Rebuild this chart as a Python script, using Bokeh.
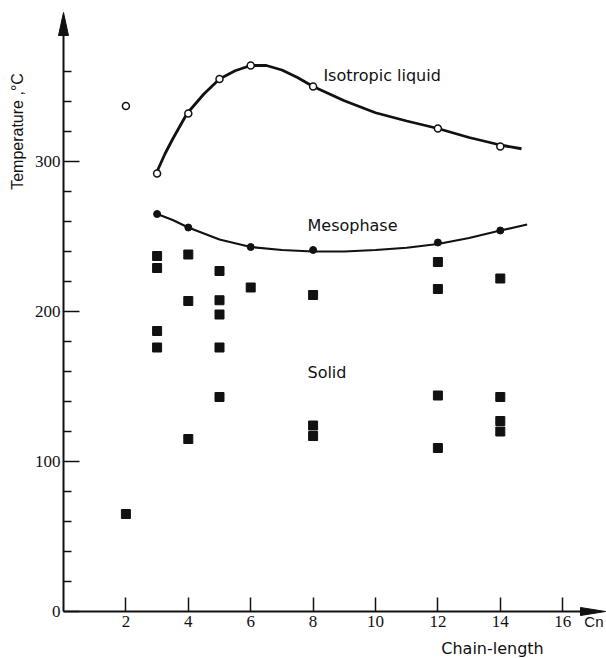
import math
from bokeh.plotting import figure
from bokeh.models import LinearAxis, FixedTicker, Label
from bokeh.embed import file_html
from bokeh.resources import INLINE

# ---- data ----
# isotropic-liquid transition (open circles)
open_c = [2, 3, 4, 5, 6, 8, 12, 14]
open_t = [337, 292, 332, 355, 364, 350, 322, 310]
# mesophase transition (filled circles)
meso_c = [3, 4, 6, 8, 12, 14]
meso_t = [265, 256, 243, 241, 246, 254]
# solid transitions (filled squares)
solid_c = [2, 3, 3, 3, 3, 4, 4, 4, 5, 5, 5, 5, 5, 6, 8, 8, 8, 12, 12, 12, 12, 14, 14, 14, 14]
solid_t = [65, 237, 229, 187, 176, 238, 207, 115, 227, 207.5, 198, 176, 143, 216,
           211, 124, 117, 233, 215, 144, 109, 222, 143, 127, 120]
# hand-drawn curves
iso_curve_c = [2.97, 3.25, 3.5, 3.96, 4.5, 5, 5.5, 6, 6.5, 7, 7.5, 8, 9, 10, 11, 12, 13, 14, 14.68]
iso_curve_t = [292, 305, 315, 332, 345, 355, 360.5, 364, 364, 361, 356, 350, 340.5, 332.5, 327, 322, 316, 311, 308.5]
meso_curve_c = [3, 3.5, 4, 5, 6, 7, 8, 9, 10, 11, 12, 13, 14, 14.86]
meso_curve_t = [265, 261, 256, 248, 243, 241, 240, 240, 241, 242.5, 245, 249, 254, 258]

x_ticks = [2, 4, 6, 8, 10, 12, 14, 16]
y_ticks = [0, 100, 200, 300]
y_minor_ticks = [20, 40, 60, 80, 120, 140, 160, 180, 220, 240, 260, 280, 320, 340, 360]

# ---- layout constants ----
W, H = 606, 658
PX_X = 31.2   # px per chain unit
PX_Y = 1.5    # px per degree
ORG_X, ORG_Y = 63, 611  # pixel position of the origin
X0, X1 = -ORG_X / PX_X, (W - ORG_X) / PX_X
Y0, Y1 = -(H - ORG_Y) / PX_Y, ORG_Y / PX_Y

ink = "#111111"
font = "DejaVu Sans"

p = figure(width=W, height=H, x_range=(X0, X1), y_range=(Y0, Y1),
           output_backend="svg", toolbar_location=None,
           x_axis_location=None, y_axis_location=None, min_border=0)
p.outline_line_color = None
p.grid.visible = False
p.background_fill_color = "white"

y_arrow_base = (ORG_Y - 35) / PX_Y
y_arrow_tip = (ORG_Y - 12) / PX_Y
x_arrow_base = (580 - ORG_X) / PX_X
x_arrow_tip = (605 - ORG_X) / PX_X

yaxis = LinearAxis(fixed_location=0, bounds=(0, y_arrow_base),
                   ticker=FixedTicker(ticks=y_ticks, minor_ticks=y_minor_ticks))
yaxis.axis_line_width = 2
yaxis.axis_line_color = ink
yaxis.major_tick_in = 16
yaxis.major_tick_out = 0
yaxis.minor_tick_in = 8
yaxis.minor_tick_out = 0
yaxis.major_tick_line_width = 1.5
yaxis.minor_tick_line_width = 1.5
yaxis.major_tick_line_color = ink
yaxis.minor_tick_line_color = ink
yaxis.major_label_standoff = 3
yaxis.major_label_text_font = "Liberation Sans Narrow"
yaxis.major_label_text_font_size = "17px"
yaxis.major_label_text_color = ink
p.add_layout(yaxis, "left")

xaxis = LinearAxis(fixed_location=0, bounds=(0, x_arrow_base),
                   ticker=FixedTicker(ticks=x_ticks, minor_ticks=[]))
xaxis.axis_line_width = 2
xaxis.axis_line_color = ink
xaxis.major_tick_in = 14
xaxis.major_tick_out = 0
xaxis.major_tick_line_width = 1.5
xaxis.major_tick_line_color = ink
xaxis.minor_tick_line_color = None
xaxis.major_label_standoff = 4
xaxis.major_label_text_font = "Liberation Sans Narrow"
xaxis.major_label_text_font_size = "17px"
xaxis.major_label_text_color = ink
p.add_layout(xaxis, "below")

# arrow heads at axis ends
hw = 5.0 / PX_X
p.patch([-hw, 0, hw], [y_arrow_base, y_arrow_tip, y_arrow_base], color=ink, line_width=1)
hh = 4.0 / PX_Y
p.patch([x_arrow_base, x_arrow_tip, x_arrow_base], [-hh, 0, hh], color=ink, line_width=1)

# curves
p.line(iso_curve_c, iso_curve_t, line_color=ink, line_width=2.8, line_join="round")
p.line(meso_curve_c, meso_curve_t, line_color=ink, line_width=2.2, line_join="round")

# markers
p.scatter(solid_c, solid_t, marker="square", size=9, fill_color=ink, line_color=ink)
p.scatter(meso_c, meso_t, marker="circle", size=7, fill_color=ink, line_color=ink)
p.scatter(open_c, open_t, marker="circle", size=7, fill_color="white", line_color=ink, line_width=1.5)

# texts
def lab(x, y, t, align="left", angle=0.0, size="16px", f=font):
    p.add_layout(Label(x=x, y=y, text=t, text_font=f, text_font_size=size,
                       text_color=ink, text_align=align, text_baseline="middle",
                       angle=angle))

lab(8.33, 357.3, "Isotropic liquid")
lab(7.82, 257.3, "Mesophase")
lab(7.82, 159.3, "Solid")
lab((603 - ORG_X) / PX_X, -6.7, "Cn", align="right", size="15px", f="Liberation Sans")
lab(13.75, -24.7, "Chain-length", align="center")
lab(-1.474, 320, "Temperature ,°C", align="center", angle=math.pi / 2, size="16px", f="Liberation Sans")

open("out.html", "w").write(file_html(p, INLINE))
